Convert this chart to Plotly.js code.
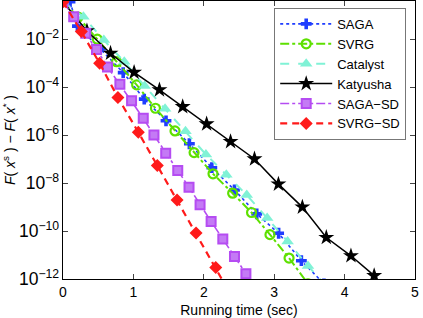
<!DOCTYPE html>
<html>
<head>
<meta charset="utf-8">
<script src="https://cdn.plot.ly/plotly-3.0.1.min.js"></script>
<style>html,body{margin:0;padding:0;background:#fff;}#chart{width:423px;height:318px;}</style>
</head>
<body>
<div id="chart"></div>
<script>
// Running time (sec) and objective gap F(x^s) - F(x^*)
const sagaX = [0.1, 0.205, 0.53, 0.855, 1.154, 1.463, 1.795, 2.114, 2.436, 2.752, 3.063, 3.386, 3.707];
const sagaY = [0.37, 3.55e-2, 4.0e-3, 4.1e-4, 3.2e-5, 4.0e-6, 4.4e-7, 4.4e-8, 5.2e-9, 5.2e-10, 8.1e-11, 5.8e-12, 6.3e-13];

const svrgX = [0, 0.214, 0.487, 0.761, 1.046, 1.313, 1.591, 1.862, 2.131, 2.41, 2.678, 2.94, 3.211, 3.48];
const svrgY = [0.37, 8.5e-2, 1.02e-2, 1.17e-3, 1.26e-4, 1.33e-5, 1.51e-6, 1.88e-7, 2.45e-8, 3.8e-9, 5.96e-10, 7.1e-11, 7.5e-12, 6.3e-13];

const catalystX = [0, 0.29, 0.58, 0.87, 1.16, 1.45, 1.74, 2.03, 2.32, 2.61, 2.90, 3.19, 3.48, 3.77];
const catalystY = [0.37, 8.7e-2, 9.3e-3, 1.17e-3, 1.12e-4, 1.26e-5, 1.45e-6, 1.58e-7, 2.24e-8, 3.2e-9, 3.5e-10, 3.7e-11, 3.5e-12, 4.0e-13];

const katyushaX = [0, 0.34, 0.675, 1.01, 1.37, 1.70, 2.04, 2.38, 2.72, 3.06, 3.40, 3.74, 4.09, 4.42];
const katyushaY = [0.37, 2.24e-2, 2.63e-3, 4.2e-4, 7.8e-5, 1.55e-5, 2.95e-6, 5.4e-7, 1.02e-7, 9.1e-9, 1.0e-9, 5.4e-11, 9.3e-12, 1.38e-12];

const sagaSdX = [0, 0.152, 0.323, 0.476, 0.632, 0.808, 0.974, 1.14, 1.292, 1.459, 1.63, 1.79, 1.947, 2.104, 2.27, 2.436, 2.598, 2.76];
const sagaSdY = [0.37, 8.7e-2, 1.78e-2, 3.8e-3, 7.1e-4, 1.33e-4, 2.75e-5, 5.1e-6, 1.02e-6, 1.78e-7, 3.35e-8, 6.7e-9, 1.26e-9, 2.5e-10, 4.7e-11, 8.7e-12, 1.66e-12, 3.2e-13];

const svrgSdX = [0, 0.26, 0.52, 0.78, 1.07, 1.34, 1.62, 1.89, 2.17, 2.44];
const svrgSdY = [0.37, 2.1e-2, 1.0e-3, 3.7e-5, 1.33e-6, 5.4e-8, 2.0e-9, 8.3e-11, 3.0e-12, 1.1e-13];

const names = ['SAGA', 'SVRG', 'Catalyst', 'Katyusha', 'SAGA\u2212SD', 'SVRG\u2212SD'];
const xTickVals = [0, 1, 2, 3, 4, 5];

const traces = [
  {x: sagaX, y: sagaY, name: names[0], mode: 'lines+markers',
   line: {color: '#1f3dff', width: 1.6, dash: 'dot'},
   marker: {symbol: 'cross', size: 9, color: '#1f3dff'}},
  {x: svrgX, y: svrgY, name: names[1], mode: 'lines+markers',
   line: {color: '#5ee000', width: 2, dash: 'dashdot'},
   marker: {symbol: 'circle-open', size: 9, color: '#5ee000', line: {width: 2.2, color: '#5ee000'}}},
  {x: catalystX, y: catalystY, name: names[2], mode: 'lines+markers',
   line: {color: '#80f2d6', width: 2, dash: 'dash'},
   marker: {symbol: 'triangle-up', size: 11, color: '#80f2d6'}},
  {x: katyushaX, y: katyushaY, name: names[3], mode: 'lines+markers',
   line: {color: '#000000', width: 1.5},
   marker: {symbol: 'star', size: 12, color: '#000000'}},
  {x: sagaSdX, y: sagaSdY, name: names[4], mode: 'lines+markers',
   line: {color: '#b54cf2', width: 1.6, dash: 'dashdot'},
   marker: {symbol: 'square', size: 9, color: '#c47af5', line: {width: 2, color: '#b54cf2'}}},
  {x: svrgSdX, y: svrgSdY, name: names[5], mode: 'lines+markers',
   line: {color: '#ff1a1a', width: 2.2, dash: '7px,5px'},
   marker: {symbol: 'diamond', size: 10, color: '#ff1a1a'}}
];

const layout = {
  width: 423, height: 318,
  margin: {l: 63, r: 8, t: 1, b: 39},
  paper_bgcolor: '#ffffff', plot_bgcolor: '#ffffff',
  font: {family: 'Liberation Sans, Arial, sans-serif', size: 14, color: '#000'},
  showlegend: true,
  legend: {x: 0.6, y: 0.975, xanchor: 'left', yanchor: 'top',
           bgcolor: '#ffffff', bordercolor: '#777777', borderwidth: 1,
           font: {size: 13}, itemwidth: 52, tracegroupgap: 0},
  xaxis: {range: [0, 5], tickvals: xTickVals, ticks: 'inside', ticklen: 5,
          showline: true, linecolor: '#000', linewidth: 1, mirror: 'ticks',
          showgrid: false, zeroline: false,
          title: {text: 'Running time (sec)', font: {size: 14}, standoff: 9}},
  yaxis: {type: 'log', range: [-12, -0.4], dtick: 2, exponentformat: 'power',
          ticks: 'inside', ticklen: 5,
          showline: true, linecolor: '#000', linewidth: 1, mirror: 'ticks',
          showgrid: false, zeroline: false,
          title: {text: '<i>F</i>( <i>x</i><sup>s</sup> ) \u2212 <i>F</i>( <i>x</i><sup>*</sup> )', font: {size: 14}, standoff: 2}}
};

Plotly.newPlot('chart', traces, layout, {displayModeBar: false, staticPlot: true});
</script>
</body>
</html>
